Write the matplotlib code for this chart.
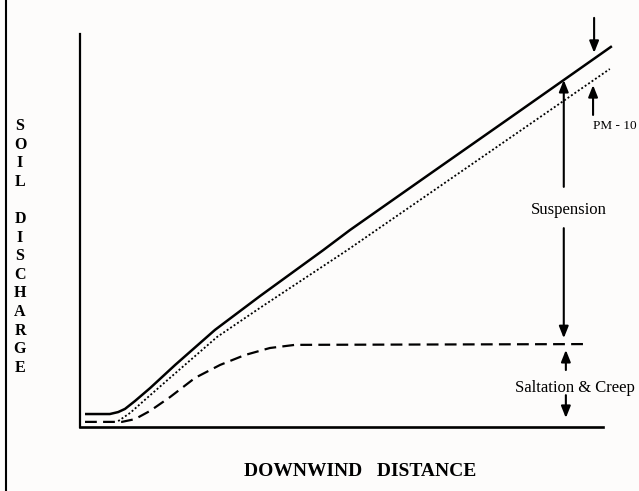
import numpy as np
import matplotlib.pyplot as plt

plt.rcParams['font.family'] = ['Liberation Serif', 'DejaVu Serif']
plt.rcParams['lines.scale_dashes'] = False

# soil discharge curves (arbitrary units, distance 0-100, discharge 0-100)
total_x = [0.96, 5.7, 7.3, 8.6, 10.5, 13.4, 18.2, 25.8, 34.4, 46.5, 51.6, 66.9, 81.6, 101.7]
total_y = [3.3, 3.3, 3.8, 4.6, 6.6, 9.9, 15.8, 24.7, 33.3, 45.0, 50.1, 64.4, 78.1, 96.9]

pm10_x = [7.3, 9.6, 12.4, 17.2, 26.2, 34.4, 51.1, 66.9, 84.1, 101.3]
pm10_y = [1.5, 3.6, 6.9, 12.5, 22.9, 30.3, 45.0, 59.5, 75.3, 91.1]

salt_x = [0.96, 8.0, 10.5, 13.4, 17.2, 22.0, 26.8, 31.5, 36.3, 41.1, 97.1]
salt_y = [1.3, 1.3, 2.0, 4.1, 7.6, 12.5, 15.8, 18.3, 20.1, 20.9, 21.1]

ylabel_letters = ['S', 'O', 'I', 'L', '', 'D', 'I', 'S', 'C', 'H', 'A', 'R', 'G', 'E']

W, H = 639, 491
fig = plt.figure(figsize=(W/100, H/100), dpi=100)
fig.patch.set_facecolor('#fdfcfb')

ax = fig.add_axes([80/W, 1-427/H, (603-80)/W, (427-34)/H])
ax.set_xlim(0, 100)
ax.set_ylim(0, 100)
ax.patch.set_alpha(0)
for s in ['top', 'right']:
    ax.spines[s].set_visible(False)
ax.spines['left'].set_linewidth(1.6)
ax.spines['bottom'].set_linewidth(1.9)
ax.set_xticks([])
ax.set_yticks([])

ax.plot(total_x, total_y, color='black', lw=1.8, clip_on=False, solid_capstyle='butt')
ax.plot(pm10_x, pm10_y, color='black', lw=1.3, clip_on=False, dashes=(1.4, 1.6))
ax.plot(salt_x, salt_y, color='black', lw=1.6, clip_on=False, dashes=(8.5, 4.5))

arw = dict(arrowstyle='-|>,head_length=0.7,head_width=0.28', color='black', lw=1.5, shrinkA=0, shrinkB=0)

def arrow(x, y0, y1):
    ax.annotate('', xy=(x, y1), xytext=(x, y0), arrowprops=arw, annotation_clip=False)

# PM-10 arrows
arrow(98.3, 104.1, 95.2)
arrow(98.1, 79.4, 87.0)
ax.text(106.5, 76.6, 'PM - 10', fontsize=9.5, ha='right', va='center', clip_on=False)

# suspension
arrow(92.5, 61.1, 88.3)
arrow(92.5, 50.6, 22.6)
ax.text(93.5, 55.2, 'Suspension', fontsize=12, ha='center', va='center', clip_on=False)

# saltation & creep
arrow(92.9, 14.5, 19.6)
arrow(92.9, 8.1, 2.3)
ax.text(83.2, 9.9, 'Saltation & Creep', fontsize=12, ha='left', va='center', clip_on=False)

# vertical y label
y_top = 126
step = 18.6
for i, ch in enumerate(ylabel_letters):
    fig.text(20/W, 1-(y_top+i*step)/H, ch, fontsize=11.5, fontweight='bold', ha='center', va='center')

fig.text(360/W, 1-472/H, 'DOWNWIND   DISTANCE', fontsize=14, fontweight='bold', ha='center', va='center')

# left page border
fig.add_artist(plt.Line2D([6/W, 6/W], [0, 1], color='black', lw=1.5, transform=fig.transFigure))

plt.savefig('out.png', dpi=100, facecolor=fig.get_facecolor())
